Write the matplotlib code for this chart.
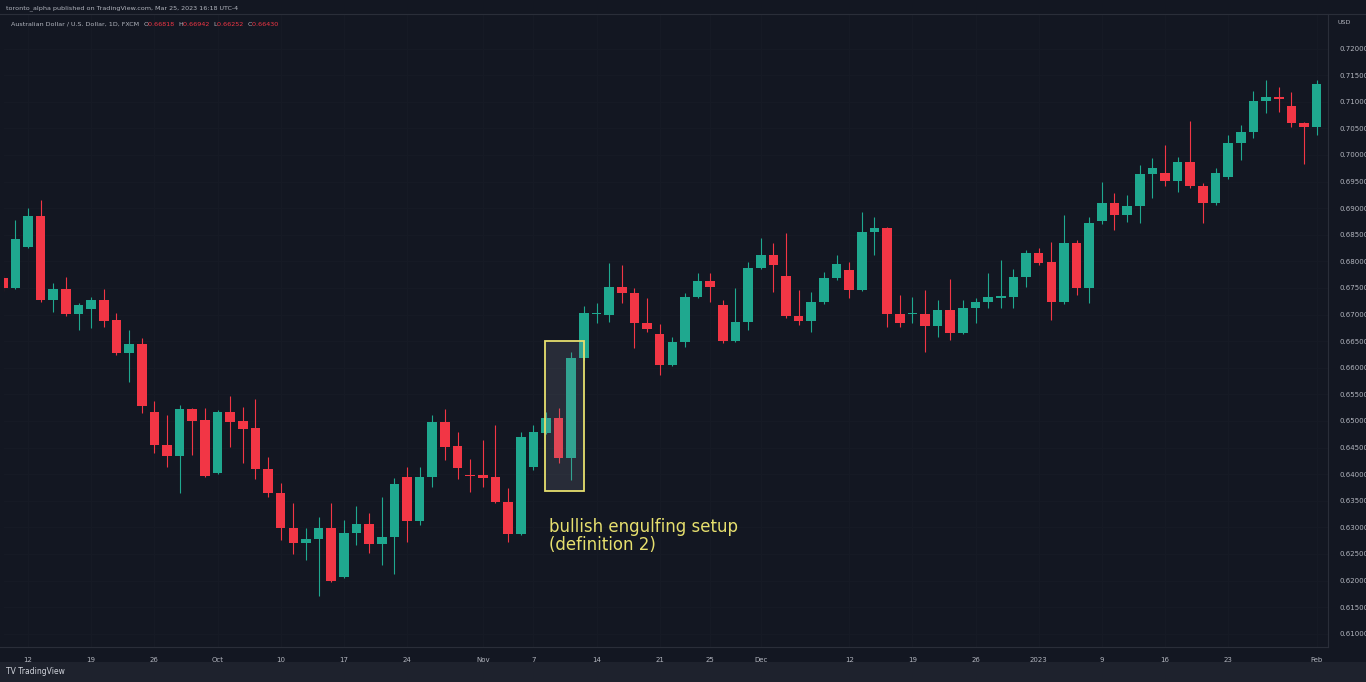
import matplotlib
matplotlib.use("Agg")
import matplotlib.pyplot as plt
from matplotlib.patches import Rectangle
import numpy as np
import pandas as pd

# AUD/USD daily, FXCM, 2022-09-08 .. 2023-02-01 (weekdays)
dates = pd.bdate_range("2022-09-08", "2023-02-01")

opens = [0.6768, 0.6750, 0.6827, 0.6885, 0.6727, 0.6748, 0.6701, 0.6710, 0.6727, 0.6689,
         0.6627, 0.6644, 0.6516, 0.6455, 0.6434, 0.6522, 0.6501, 0.6402, 0.6516, 0.6500,
         0.6486, 0.6409, 0.6364, 0.6298, 0.6270, 0.6278, 0.6298, 0.6206, 0.6289, 0.6306,
         0.6268, 0.6281, 0.6394, 0.6312, 0.6394, 0.6498, 0.6453, 0.6398, 0.6398, 0.6394,
         0.6347, 0.6287, 0.6413, 0.6477, 0.6505, 0.6430, 0.6618, 0.6701, 0.6699, 0.6751,
         0.6740, 0.6684, 0.6663, 0.6605, 0.6648, 0.6733, 0.6763, 0.6718, 0.6650, 0.6686,
         0.6787, 0.6812, 0.6772, 0.6697, 0.6688, 0.6723, 0.6768, 0.6783, 0.6746, 0.6855,
         0.6862, 0.6701, 0.6701, 0.6701, 0.6679, 0.6708, 0.6665, 0.6712, 0.6723, 0.6731,
         0.6733, 0.6770, 0.6815, 0.6798, 0.6723, 0.6834, 0.6750, 0.6876, 0.6909, 0.6887,
         0.6904, 0.6964, 0.6966, 0.6951, 0.6986, 0.6941, 0.6909, 0.6958, 0.7022, 0.7043,
         0.7101, 0.7109, 0.7092, 0.7060, 0.7052]
highs = [0.6775, 0.6877, 0.6900, 0.6915, 0.6759, 0.6770, 0.6721, 0.6733, 0.6748, 0.6703,
         0.6671, 0.6656, 0.6537, 0.6511, 0.6530, 0.6524, 0.6524, 0.6520, 0.6547, 0.6526,
         0.6541, 0.6432, 0.6383, 0.6345, 0.6298, 0.6319, 0.6345, 0.6313, 0.6340, 0.6327,
         0.6357, 0.6392, 0.6413, 0.6413, 0.6511, 0.6522, 0.6479, 0.6428, 0.6464, 0.6492,
         0.6374, 0.6479, 0.6492, 0.6516, 0.6524, 0.6629, 0.6716, 0.6721, 0.6797, 0.6793,
         0.6750, 0.6731, 0.6682, 0.6657, 0.6740, 0.6778, 0.6778, 0.6727, 0.6750, 0.6798,
         0.6844, 0.6834, 0.6853, 0.6746, 0.6742, 0.6780, 0.6812, 0.6798, 0.6892, 0.6883,
         0.6865, 0.6736, 0.6733, 0.6746, 0.6727, 0.6766, 0.6727, 0.6731, 0.6778, 0.6802,
         0.6785, 0.6821, 0.6825, 0.6836, 0.6887, 0.6840, 0.6883, 0.6949, 0.6928, 0.6924,
         0.6981, 0.6994, 0.7018, 0.6996, 0.7064, 0.6947, 0.6975, 0.7037, 0.7056, 0.7120,
         0.7141, 0.7127, 0.7118, 0.7062, 0.7141]
lows = [0.6745, 0.6748, 0.6826, 0.6723, 0.6704, 0.6697, 0.6671, 0.6674, 0.6676, 0.6624,
        0.6573, 0.6515, 0.6439, 0.6413, 0.6364, 0.6436, 0.6394, 0.6400, 0.6451, 0.6421,
        0.6390, 0.6357, 0.6276, 0.6250, 0.6238, 0.6170, 0.6197, 0.6204, 0.6266, 0.6251,
        0.6229, 0.6212, 0.6272, 0.6304, 0.6375, 0.6426, 0.6390, 0.6366, 0.6375, 0.6345,
        0.6272, 0.6285, 0.6407, 0.6475, 0.6421, 0.6389, 0.6614, 0.6684, 0.6686, 0.6721,
        0.6637, 0.6667, 0.6586, 0.6603, 0.6639, 0.6731, 0.6723, 0.6646, 0.6648, 0.6671,
        0.6785, 0.6742, 0.6693, 0.6680, 0.6667, 0.6720, 0.6765, 0.6731, 0.6744, 0.6812,
        0.6676, 0.6676, 0.6684, 0.6629, 0.6657, 0.6652, 0.6663, 0.6684, 0.6712, 0.6712,
        0.6712, 0.6751, 0.6793, 0.6689, 0.6719, 0.6736, 0.6721, 0.6870, 0.6859, 0.6874,
        0.6872, 0.6919, 0.6941, 0.6930, 0.6938, 0.6872, 0.6906, 0.6955, 0.6990, 0.7032,
        0.7079, 0.7080, 0.7052, 0.6983, 0.7037]
closes = [0.6750, 0.6842, 0.6885, 0.6727, 0.6748, 0.6701, 0.6718, 0.6727, 0.6688, 0.6627,
          0.6644, 0.6528, 0.6455, 0.6434, 0.6522, 0.6500, 0.6396, 0.6516, 0.6498, 0.6484,
          0.6409, 0.6364, 0.6298, 0.6270, 0.6278, 0.6298, 0.6199, 0.6289, 0.6306, 0.6268,
          0.6281, 0.6381, 0.6312, 0.6394, 0.6498, 0.6451, 0.6411, 0.6396, 0.6392, 0.6347,
          0.6287, 0.6469, 0.6479, 0.6505, 0.6430, 0.6618, 0.6703, 0.6703, 0.6751, 0.6740,
          0.6684, 0.6673, 0.6605, 0.6648, 0.6733, 0.6763, 0.6751, 0.6650, 0.6686, 0.6787,
          0.6812, 0.6793, 0.6697, 0.6688, 0.6723, 0.6768, 0.6795, 0.6746, 0.6855, 0.6862,
          0.6701, 0.6684, 0.6703, 0.6679, 0.6708, 0.6665, 0.6712, 0.6723, 0.6733, 0.6735,
          0.6770, 0.6815, 0.6797, 0.6723, 0.6834, 0.6750, 0.6872, 0.6909, 0.6887, 0.6904,
          0.6964, 0.6975, 0.6951, 0.6986, 0.6941, 0.6909, 0.6966, 0.7022, 0.7043, 0.7101,
          0.7109, 0.7105, 0.7060, 0.7052, 0.7133]

tick_dates = ["2022-09-12", "2022-09-19", "2022-09-26", "2022-10-03", "2022-10-10",
              "2022-10-17", "2022-10-24", "2022-11-01", "2022-11-07", "2022-11-14",
              "2022-11-21", "2022-11-25", "2022-12-01", "2022-12-12", "2022-12-19",
              "2022-12-26", "2023-01-02", "2023-01-09", "2023-01-16", "2023-01-23",
              "2023-02-01"]
tick_labels = ["12", "19", "26", "Oct", "10", "17", "24", "Nov", "7", "14", "21", "25",
               "Dec", "12", "19", "26", "2023", "9", "16", "23", "Feb"]

BG = "#131722"
UP = "#1fa88f"
DOWN = "#f23645"
TXT = "#b2b5be"

W, H = 1366, 682
fig = plt.figure(figsize=(W / 100, H / 100), dpi=100, facecolor=BG)
ax = fig.add_axes([4 / W, 1 - 647 / H, (1328 - 4) / W, (647 - 14) / H], facecolor=BG)

x = np.arange(len(dates))
o, h, l, c = map(np.array, (opens, highs, lows, closes))
col = np.where(c >= o, UP, DOWN)

ax.vlines(x, l, h, colors=col, lw=0.8, zorder=2)
body = np.maximum(np.abs(c - o), 0.00012)
ax.bar(x, body, bottom=np.minimum(o, c), width=0.76, color=col, zorder=3)

ax.set_xlim(0.1, 104.9)
ax.set_ylim(0.6075, 0.7265)

yt = np.arange(0.610, 0.7201, 0.005)
ax.set_yticks(yt)
ax.set_yticklabels([f"{v:.5f}" for v in yt])
ax.yaxis.tick_right()
pos = [dates.get_loc(pd.Timestamp(d)) for d in tick_dates]
ax.set_xticks(pos)
ax.set_xticklabels(tick_labels)
ax.tick_params(colors=TXT, labelsize=5, length=0, pad=7)
ax.tick_params(axis="y", pad=8)
ax.grid(True, color="#171b26", lw=0.6)
for s in ax.spines.values():
    s.set_visible(False)

# highlighted setup
ax.add_patch(Rectangle((42.9, 0.6368), 3.1, 0.0282, facecolor="#8a8f9e", alpha=0.18,
                       edgecolor="none", zorder=4))
ax.add_patch(Rectangle((42.9, 0.6368), 3.1, 0.0282, facecolor="none",
                       edgecolor="#e6df6e", lw=1.3, zorder=5))
ax.text(43.2, 0.6318, "bullish engulfing setup\n(definition 2)", color="#e6df6e",
        fontsize=12, va="top", ha="left", linespacing=1.0, zorder=6)

# header
fig.add_artist(plt.Line2D([0, 1], [1 - 14 / H] * 2, color="#2a2e39", lw=0.8))
fig.text(6 / W, 1 - 8 / H, "toronto_alpha published on TradingView.com, Mar 25, 2023 16:18 UTC-4",
         color=TXT, fontsize=4.6, va="center")
hy = 1 - 24 / H
t = fig.text(11 / W, hy, "Australian Dollar / U.S. Dollar, 1D, FXCM  ", color=TXT,
             fontsize=4.6, va="center")
fig.canvas.draw()
r = fig.canvas.get_renderer()
xx = t.get_window_extent(r).x1
for k, v in [("O", "0.66818"), ("H", "0.66942"), ("L", "0.66252"), ("C", "0.66430")]:
    a = fig.text(xx / W, hy, k, color=TXT, fontsize=4.6, va="center")
    xx = a.get_window_extent(r).x1
    b = fig.text(xx / W, hy, v + "  ", color=DOWN, fontsize=4.6, va="center")
    xx = b.get_window_extent(r).x1
fig.text(1337 / W, 1 - 22 / H, "USD", color=TXT, fontsize=4.6, va="center")

# axis separators and footer
fig.add_artist(plt.Line2D([0, 1328 / W], [1 - 647 / H] * 2, color="#2a2e39", lw=0.8))
fig.add_artist(plt.Line2D([1328 / W] * 2, [1 - 647 / H, 1 - 14 / H], color="#2a2e39", lw=0.8))
fig.add_artist(Rectangle((0, 0), 1, 20 / H, transform=fig.transFigure,
                         facecolor="#1e222d", edgecolor="none"))
fig.text(6 / W, 10 / H, "TV TradingView", color="#d1d4dc", fontsize=5.5, va="center")

fig.savefig("out.png", dpi=100, facecolor=BG)
